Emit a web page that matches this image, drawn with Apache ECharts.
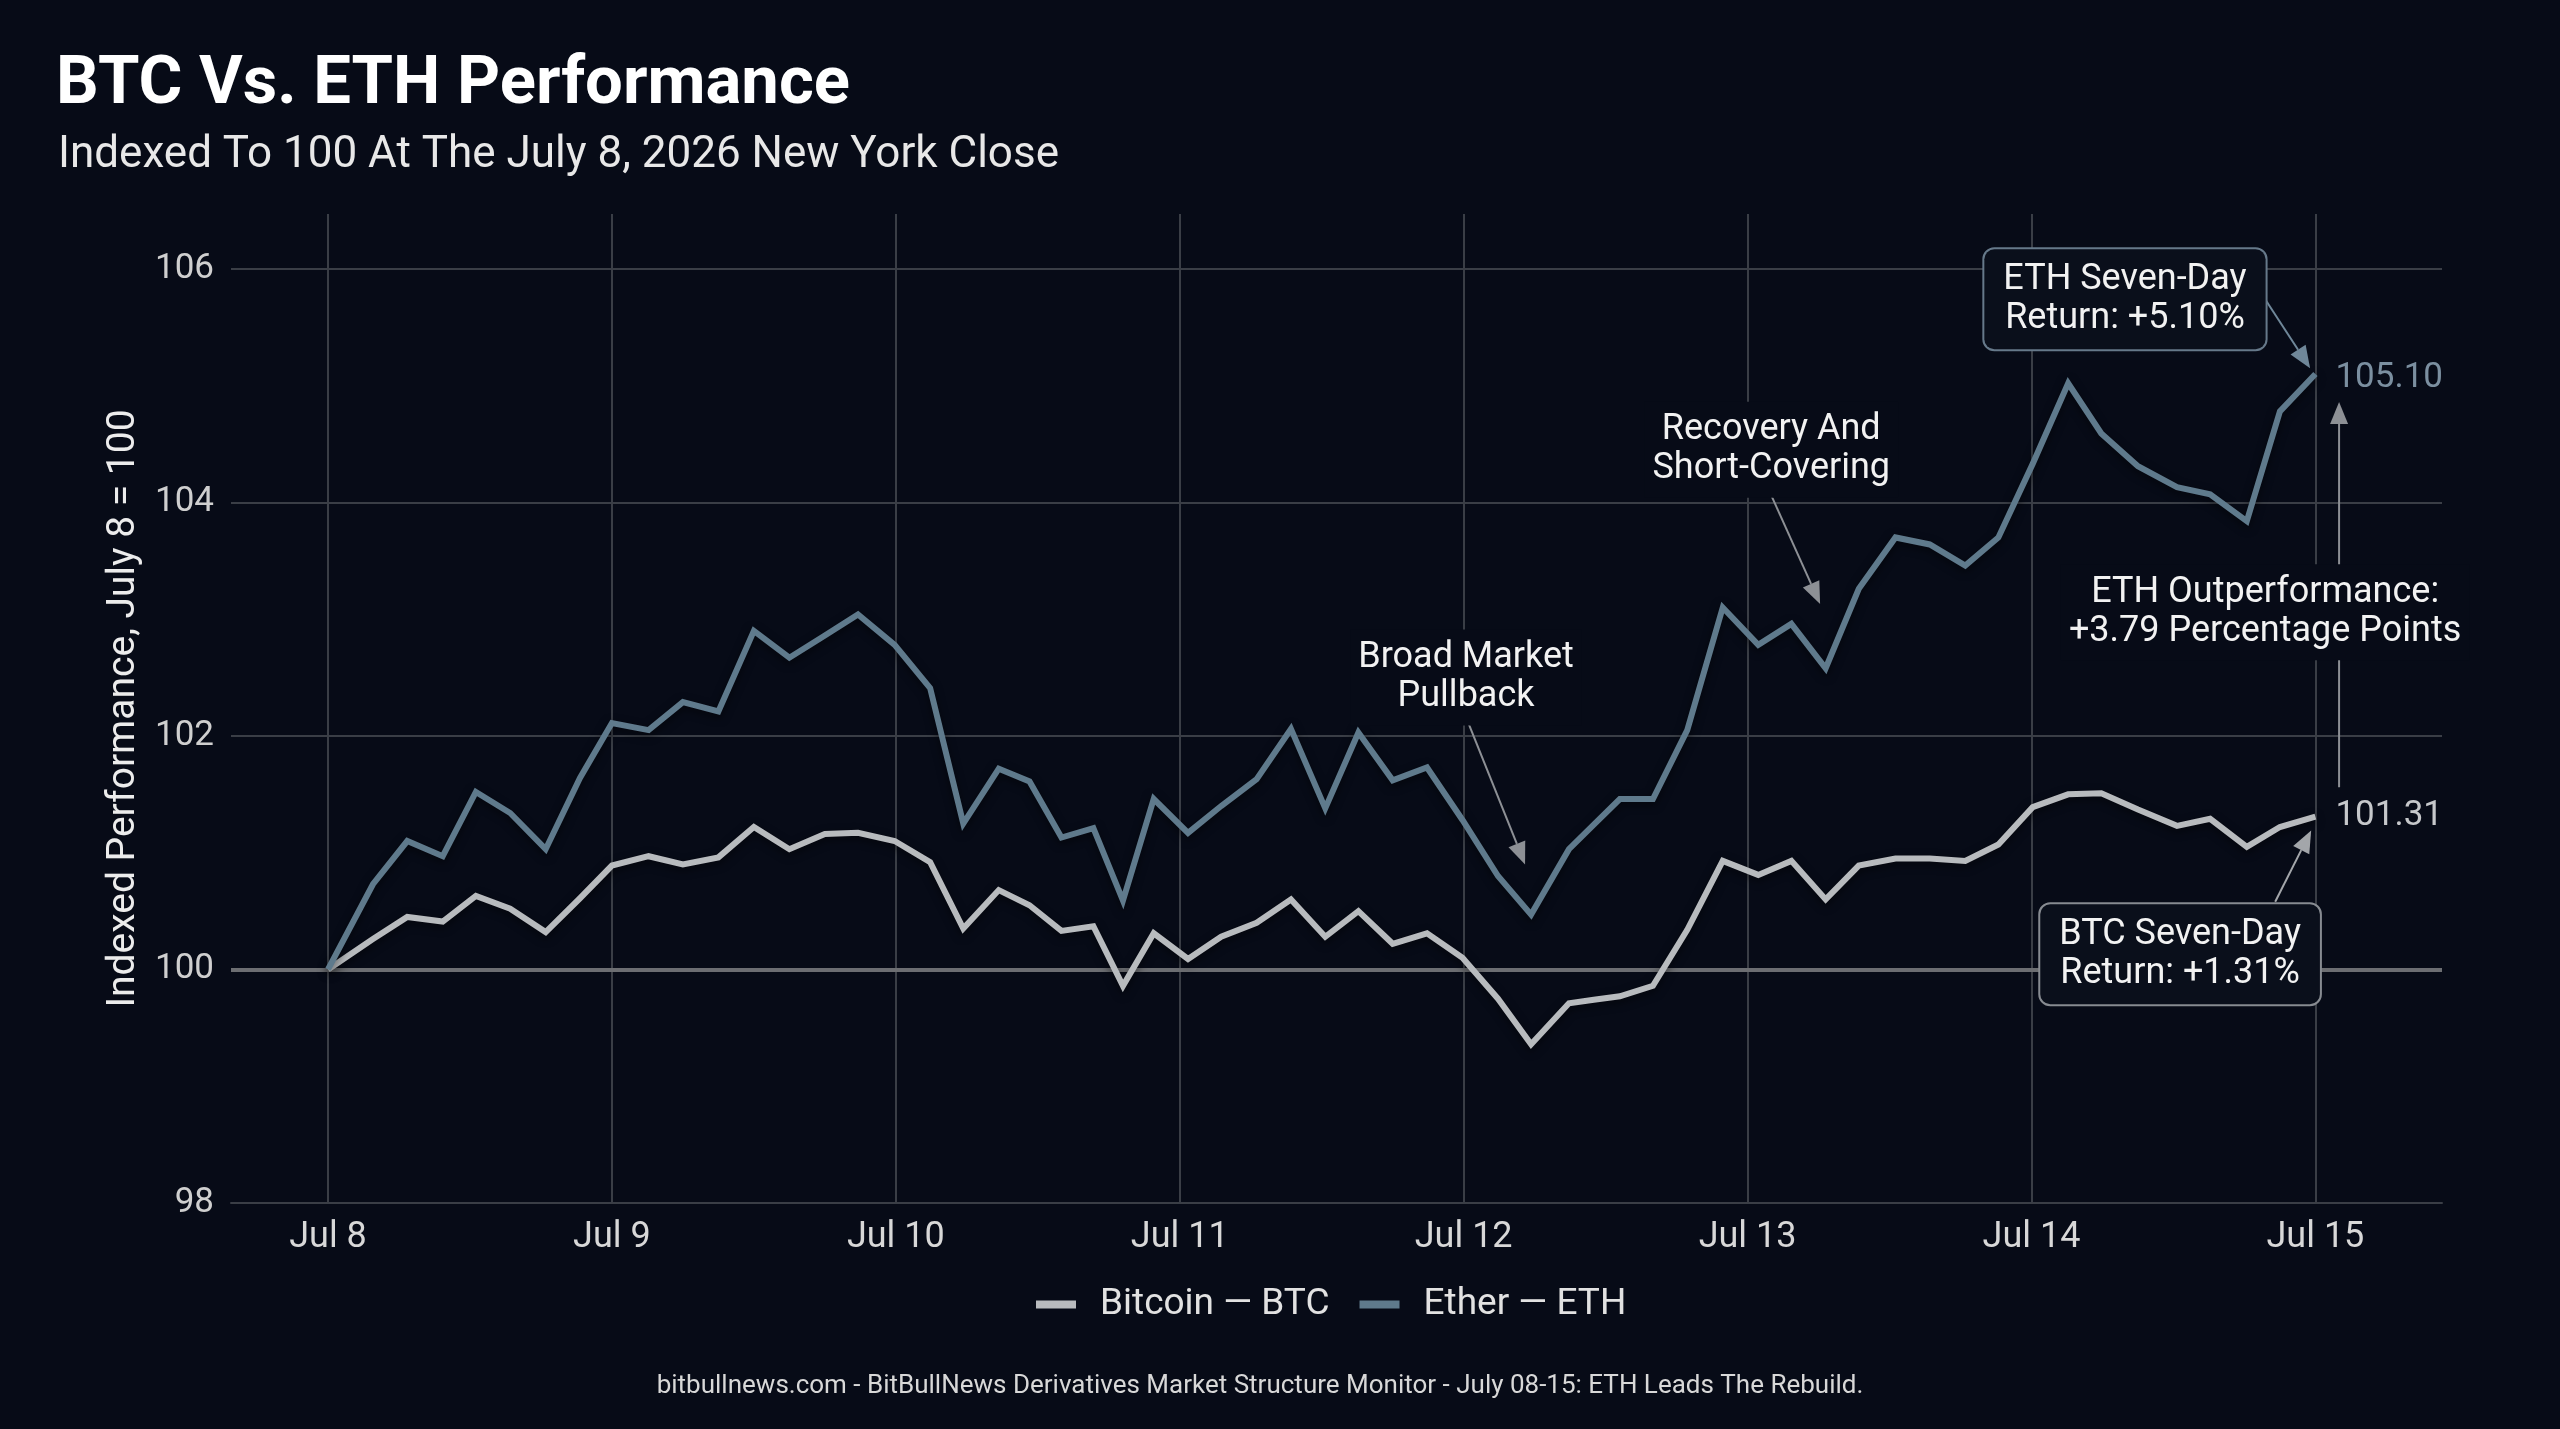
<!DOCTYPE html>
<html><head><meta charset="utf-8">
<script src="https://cdn.jsdelivr.net/npm/echarts@6/dist/echarts.min.js"></script>
<style>html,body{margin:0;padding:0;background:#070b17;} #c{width:2560px;height:1429px;}</style>
</head><body><div id="c"></div>
<script>
// ---- data (hours after Jul 8 New York close index point) ----
const hours = [0, 3.8, 6.7, 9.7, 12.5, 15.4, 18.4, 21.3, 24, 27.1, 30, 33, 36, 39, 42, 44.8, 47.9, 50.9, 53.7, 56.7, 59.3, 62, 64.7, 67.2, 69.8, 72.7, 75.5, 78.5, 81.4, 84.3, 87.1, 90, 92.9, 95.9, 98.9, 101.7, 104.9, 107, 109.2, 112, 114.9, 117.9, 120.9, 123.7, 126.6, 129.4, 132.5, 135.4, 138.4, 141.2, 144.1, 147.1, 149.9, 153, 156.3, 159.1, 162.2, 165, 168];
const btc = [100.00, 100.26, 100.45, 100.41, 100.63, 100.52, 100.32, 100.61, 100.89, 100.97, 100.90, 100.96, 101.22, 101.03, 101.16, 101.17, 101.10, 100.92, 100.35, 100.68, 100.55, 100.33, 100.37, 99.86, 100.31, 100.09, 100.28, 100.40, 100.60, 100.28, 100.50, 100.22, 100.31, 100.10, 99.75, 99.36, 99.71, 99.74, 99.77, 99.86, 100.34, 100.93, 100.81, 100.93, 100.60, 100.89, 100.95, 100.95, 100.93, 101.07, 101.39, 101.50, 101.51, 101.37, 101.23, 101.29, 101.05, 101.22, 101.31];
const eth = [100.00, 100.73, 101.10, 100.97, 101.52, 101.34, 101.03, 101.64, 102.11, 102.05, 102.29, 102.21, 102.90, 102.67, 102.86, 103.04, 102.78, 102.41, 101.25, 101.72, 101.61, 101.13, 101.21, 100.59, 101.46, 101.17, 101.40, 101.63, 102.06, 101.38, 102.03, 101.62, 101.73, 101.28, 100.80, 100.47, 101.03, 101.24, 101.46, 101.46, 102.05, 103.10, 102.78, 102.96, 102.58, 103.26, 103.70, 103.64, 103.46, 103.70, 104.33, 105.02, 104.59, 104.31, 104.13, 104.07, 103.84, 104.78, 105.10];
const dayHours = [0, 24, 48, 72, 96, 120, 144, 168];
const dayLabels = ['Jul 8', 'Jul 9', 'Jul 10', 'Jul 11', 'Jul 12', 'Jul 13', 'Jul 14', 'Jul 15'];
const yTicks = [98, 100, 102, 104, 106];
const seriesNames = ['Bitcoin \u2014 BTC', 'Ether \u2014 ETH'];

// ---- styling ----
const BG = '#070b17';
const GRID = '#3a3e46';
const BTC_C = '#b8bbbe';
const ETH_C = '#5f7a8c';
const FONT = 'Roboto';

const chart = echarts.init(document.getElementById('c'), null, {renderer: 'canvas', width: 2560, height: 1429});

const option = {
  backgroundColor: BG,
  animation: false,
  textStyle: {fontFamily: FONT},
  grid: {left: 231, right: 118, top: 214, bottom: 226, containLabel: false},
  legend: {
    left: 1031, top: 1281, icon: 'rect', itemWidth: 40, itemHeight: 8, itemGap: 30,
    textStyle: {color: '#e2e2e2', fontSize: 37, fontFamily: FONT, padding: [0, 0, 0, 19]},
    data: seriesNames
  },
  xAxis: {
    type: 'value', min: -8.2, max: 178.7,
    axisLine: {show: true, lineStyle: {color: GRID, width: 2}},
    axisTick: {show: false, customValues: dayHours},
    axisLabel: {customValues: dayHours, formatter: v => dayLabels[dayHours.indexOf(v)], color: '#d8d8d8', fontSize: 36, margin: 17, fontFamily: FONT},
    splitLine: {show: true, lineStyle: {color: GRID, width: 2}}
  },
  yAxis: {
    type: 'value', min: 98, max: 106.47,
    axisLine: {show: false},
    axisTick: {show: false, customValues: yTicks},
    axisLabel: {customValues: yTicks, color: '#cfcfcf', fontSize: 35, margin: 17, fontFamily: FONT},
    splitLine: {show: true, lineStyle: {color: GRID, width: 2}},
    name: 'Indexed Performance, July 8 = 100', nameLocation: 'middle', nameGap: 84,
    nameTextStyle: {color: '#ececec', fontSize: 39, fontFamily: FONT}
  },
  series: [
    {
      name: seriesNames[0], type: 'line', data: hours.map((h, i) => [h, btc[i]]),
      showSymbol: false, color: BTC_C, z: 3,
      lineStyle: {width: 6, color: BTC_C, join: 'miter', shadowColor: 'rgba(0,0,0,0.55)', shadowBlur: 8, shadowOffsetY: 3},
      endLabel: {show: true, formatter: p => p.value[1].toFixed(2), color: '#c6c8cb', fontSize: 35, distance: 20, fontFamily: FONT},
      markLine: {silent: true, z: 1, symbol: 'none', label: {show: false}, lineStyle: {color: '#6c6e72', width: 4, type: 'solid'}, data: [{yAxis: 100}]}
    },
    {
      name: seriesNames[1], type: 'line', data: hours.map((h, i) => [h, eth[i]]),
      showSymbol: false, color: ETH_C, z: 3,
      lineStyle: {width: 6, color: ETH_C, join: 'miter', shadowColor: 'rgba(0,0,0,0.55)', shadowBlur: 8, shadowOffsetY: 3},
      endLabel: {show: true, formatter: p => p.value[1].toFixed(2), color: '#7b8fa0', fontSize: 35, distance: 20, offset: [0, 4], fontFamily: FONT}
    }
  ]
};
chart.setOption(option);

// ---- annotations (anchored in data coordinates) ----
const notes = [
  {text: 'Broad Market\nPullback', at: [96.2, 102.50], box: false},
  {text: 'Recovery And\nShort-Covering', at: [122.0, 104.45], box: false},
  {text: 'ETH Outperformance:\n+3.79 Percentage Points', at: [163.75, 103.06], box: false},
  {text: 'ETH Seven-Day\nReturn: +5.10%', at: [151.9, 105.74], box: true, border: '#66798a'},
  {text: 'BTC Seven-Day\nReturn: +1.31%', at: [156.56, 100.13], box: true, border: '#878b91'}
];
const arrows = [
  {from: [96.4, 102.11], to: [101.19, 100.90], color: '#8d9095'},
  {from: [122.05, 104.05], to: [126.13, 103.13], color: '#8d9095'},
  {from: [163.75, 105.74], to: [167.55, 105.15], color: '#6f8799'},
  {from: [164.6, 100.58], to: [167.64, 101.19], color: '#a3a6aa'},
  {from: [170.0, 101.56], to: [170.0, 104.86], color: '#8d9095'}
];

const px = (p) => chart.convertToPixel({gridIndex: 0}, p);
const graphics = [];

function addArrow(a) {
  const p0 = px(a.from), p1 = px(a.to);
  const dx = p1[0] - p0[0], dy = p1[1] - p0[1], L = Math.hypot(dx, dy);
  const ux = dx / L, uy = dy / L, hl = 22, hw = 18;
  const bx = p1[0] - ux * hl, by = p1[1] - uy * hl;
  const nx = -uy, ny = ux;
  graphics.push({type: 'line', z: 50, shape: {x1: p0[0], y1: p0[1], x2: bx, y2: by}, style: {stroke: a.color, lineWidth: 2}});
  graphics.push({type: 'polygon', z: 50, shape: {points: [[p1[0], p1[1]], [bx + nx * hw / 2, by + ny * hw / 2], [bx - nx * hw / 2, by - ny * hw / 2]]}, style: {fill: a.color}});
}
arrows.forEach(addArrow);

notes.forEach(n => {
  const p = px(n.at);
  const style = {
    text: n.text, x: p[0], y: p[1], align: 'center', verticalAlign: 'middle',
    fontSize: 36, fontFamily: FONT, fill: '#f2f2f2', lineHeight: 39,
    backgroundColor: n.box ? '#0a0f1b' : BG
  };
  if (n.box) {
    Object.assign(style, {borderColor: n.border, borderWidth: 2, borderRadius: 10, padding: [11, 19]});
  } else {
    style.padding = [9, 8];
  }
  graphics.push({type: 'text', z: 60, style});
});

// titles and footer
graphics.push({type: 'text', z: 60, style: {text: 'BTC Vs. ETH Performance', x: 56, y: 86, align: 'left', verticalAlign: 'middle', fontSize: 67, fontWeight: 'bold', fontFamily: FONT, fill: '#ffffff'}});
graphics.push({type: 'text', z: 60, style: {text: 'Indexed To 100 At The July 8, 2026 New York Close', x: 58, y: 156, align: 'left', verticalAlign: 'middle', fontSize: 44, fontFamily: FONT, fill: '#e8e8e8'}});
graphics.push({type: 'text', z: 60, style: {text: 'bitbullnews.com - BitBullNews Derivatives Market Structure Monitor - July 08-15: ETH Leads The Rebuild.', x: 1260, y: 1386, align: 'center', verticalAlign: 'middle', fontSize: 26, fontFamily: FONT, fill: '#d8d8d8'}});

chart.setOption({graphic: graphics});
</script>
</body></html>
